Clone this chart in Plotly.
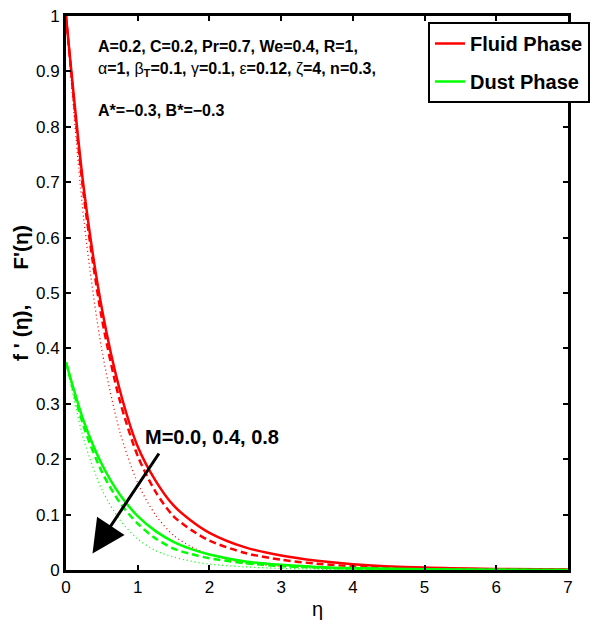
import plotly.graph_objects as go

eta = [0, 0.25, 0.5, 0.75, 1.0, 1.25, 1.5, 1.75, 2.0, 2.5, 3.0, 3.5, 4.0, 5.0, 6.0, 7.0]

fluid_M00 = [1.0, 0.687, 0.472, 0.325, 0.223, 0.161, 0.1165, 0.0885, 0.0672, 0.0408, 0.026, 0.0166, 0.0106, 0.0043, 0.0018, 0.0007]
fluid_M04 = [1.0, 0.674, 0.454, 0.306, 0.206, 0.141, 0.097, 0.072, 0.053, 0.0306, 0.0186, 0.0113, 0.0068, 0.0025, 0.0009, 0.0003]
fluid_M08 = [1.0, 0.630, 0.397, 0.250, 0.157, 0.099, 0.0624, 0.0419, 0.0281, 0.0126, 0.0066, 0.0034, 0.0018, 0.0005, 0.00013, 0.00004]

dust_M00 = [0.375, 0.2676, 0.191, 0.1363, 0.0972, 0.0702, 0.0508, 0.0376, 0.0279, 0.0153, 0.0093, 0.0056, 0.0034, 0.0013, 0.0005, 0.0002]
dust_M04 = [0.375, 0.2578, 0.1772, 0.1218, 0.0837, 0.0568, 0.0386, 0.0286, 0.0212, 0.0122, 0.0070, 0.0043, 0.0026, 0.00095, 0.00035, 0.00013]
dust_M08 = [0.375, 0.2343, 0.1452, 0.0907, 0.0561, 0.0349, 0.0235, 0.0158, 0.0107, 0.0056, 0.0029, 0.0015, 0.0008, 0.0002, 0.00006, 0.00002]

x_ticks = [0, 1, 2, 3, 4, 5, 6, 7]
y_ticks = [0, 0.1, 0.2, 0.3, 0.4, 0.5, 0.6, 0.7, 0.8, 0.9, 1]
y_tick_labels = ["0", "0.1", "0.2", "0.3", "0.4", "0.5", "0.6", "0.7", "0.8", "0.9", "1"]

RED = "#FF0000"
GREEN = "#00FF00"

fig = go.Figure()

series = [
    (fluid_M00, RED, "solid", 2.5, "Fluid Phase", True),
    (fluid_M04, RED, "7px,4px", 2.5, "Fluid M=0.4", False),
    (fluid_M08, RED, "1px,3px", 1.3, "Fluid M=0.8", False),
    (dust_M00, GREEN, "solid", 2.5, "Dust Phase", True),
    (dust_M04, GREEN, "7px,4px", 2.5, "Dust M=0.4", False),
    (dust_M08, GREEN, "1px,3px", 1.3, "Dust M=0.8", False),
]
for i, (ys, col, dash, w, name, show) in enumerate(series):
    fig.add_trace(go.Scatter(
        x=eta, y=ys, mode="lines", name=name, showlegend=show,
        legendgroup="g%d" % i,
        line=dict(color=col, dash=dash, width=w, shape="spline", smoothing=0.8),
    ))

axis_common = dict(
    showline=True, linecolor="black", linewidth=3, mirror="allticks",
    ticks="inside", ticklen=5, tickwidth=2, tickcolor="black",
    showgrid=False, zeroline=False,
    tickfont=dict(family="Arial", size=17, color="black"),
)

fig.update_xaxes(range=[0, 7], tickvals=x_ticks, **axis_common)
fig.update_yaxes(range=[0, 1], tickvals=y_ticks, ticktext=y_tick_labels, **axis_common)

bold = dict(family="Arial", size=16, color="black", weight="bold")

annotations = [
    dict(text="A=0.2, C=0.2, Pr=0.7, We=0.4, R=1,", x=0.06, y=0.945,
         xref="paper", yref="paper", xanchor="left", yanchor="middle",
         showarrow=False, font=bold),
    dict(text="α<b>=1, </b>β<sub><b>T</b></sub><b>=0.1, </b>γ<b>=0.1, </b>ε<b>=0.12, </b>ζ<b>=4, n=0.3,</b>",
         x=0.06, y=0.903, xref="paper", yref="paper", xanchor="left", yanchor="middle",
         showarrow=False, font=dict(family="Arial", size=16, color="black")),
    dict(text="A*=−0.3, B*=−0.3", x=0.06, y=0.830,
         xref="paper", yref="paper", xanchor="left", yanchor="middle",
         showarrow=False, font=bold),
    dict(text="M=0.0, 0.4, 0.8", x=0.29, y=0.2397,
         xref="paper", yref="paper", xanchor="center", yanchor="middle",
         showarrow=False, font=dict(family="Arial", size=20, color="black", weight="bold")),
    dict(x=0.37, y=0.030, ax=1.31, ay=0.213, xref="x", yref="y", axref="x", ayref="y",
         text="", showarrow=True, arrowhead=2, arrowsize=2.2, arrowwidth=3, arrowcolor="black"),
    dict(text="f ' (η),      F'(η)", x=-0.0916, y=0.5, xref="paper", yref="paper",
         xanchor="center", yanchor="middle", textangle=-90, showarrow=False,
         font=dict(family="Arial", size=21, color="black", weight="bold")),
    dict(text="η", x=0.5, y=-0.07, xref="paper", yref="paper",
         xanchor="center", yanchor="middle", showarrow=False,
         font=dict(family="Arial", size=20, color="black")),
]

fig.update_layout(
    width=597, height=632,
    margin=dict(l=66, r=29, t=16, b=62, autoexpand=False),
    plot_bgcolor="white", paper_bgcolor="white",
    annotations=annotations,
    legend=dict(
        xref="container", yref="container",
        x=428 / 597, y=1 - 22 / 632, xanchor="left", yanchor="top",
        bgcolor="white", bordercolor="black", borderwidth=2,
        font=dict(family="Arial", size=20, color="black", weight="bold"),
        tracegroupgap=9, itemwidth=30,
    ),
)

fig.write_html("out.html")
